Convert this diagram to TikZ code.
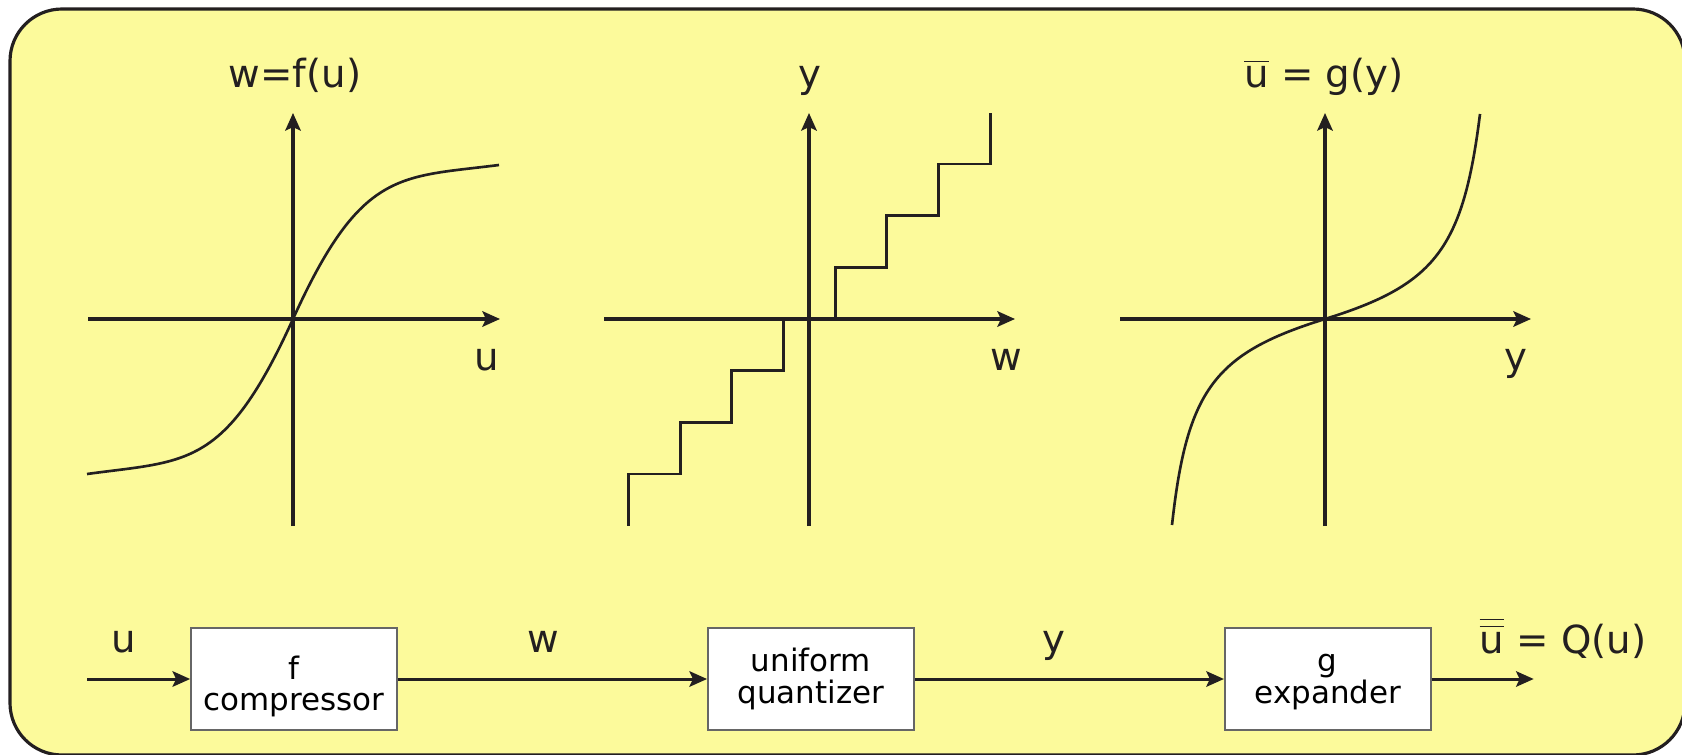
\documentclass[tikz,border=0pt]{standalone}
\usepackage{fontspec}
\setmainfont{DejaVu Sans}
\usetikzlibrary{positioning,arrows.meta}
\definecolor{pad}{RGB}{252,250,155}
\definecolor{ink}{RGB}{35,31,32}
\newcommand{\bst}[1]{\rule{0pt}{#1}}
\tikzset{
  ax/.style={ink,line width=0.9pt,-{Stealth[length=5pt,width=4.4pt,inset=1pt]}},
  crv/.style={ink,line width=0.75pt},
  blk/.style={draw=black!60,fill=white,line width=0.45pt,minimum width=2.06cm,minimum height=1.02cm,align=center,font=\fontsize{8.8}{9}\selectfont},
  lbl/.style={anchor=base,text=ink,font=\fontsize{11}{13}\selectfont},
  sig/.style={ink,line width=0.85pt,-{Stealth[length=5pt,width=4.4pt,inset=1pt]}}
}

\begin{document}
\begin{tikzpicture}[x=0.01cm,y=0.01cm]
    \useasboundingbox (0,0) rectangle (1682,754);
    \clip (0,0) rectangle (1682,754);
    \draw[ink,fill=pad,line width=0.9pt,rounded corners=0.52cm] (10,-1) rectangle (1685,745);
    % compressor curve
    \draw[ax] (88,435) -- (500,435);
    \draw[ax] (293,228) -- (293,641);
    \begin{scope}[shift={(293,435)}]
      \draw[crv] (-206,-155) .. controls (-106,-141.3) and (-68,-150) .. (0,0)
                 .. controls (68,150) and (106,141.3) .. (206,154);
    \end{scope}
    \node[lbl] (tf) at (295,666) {w=f(u)};
    \node[lbl] (au) at (487,384) {u};
    % quantizer staircase
    \draw[ax] (604,435) -- (1015,435);
    \draw[ax] (809,228) -- (809,641);
    \draw[crv,line width=0.85pt] (835,435) |- (886.7,486.7) |- (938.3,538.4) |- (990,590) -- (990,641);
    \draw[crv,line width=0.85pt] (783.5,435) |- (731.8,383.3) |- (680,331.6) |- (628.3,280) -- (628.3,228);
    \node[lbl] (ty) at (810,666) {y};
    \node[lbl] (aw) at (1006,384) {w};
    % expander curve
    \draw[ax] (1120,435) -- (1531,435);
    \draw[ax] (1325,228) -- (1325,641);
    \begin{scope}[shift={(1325,435)}]
      \draw[crv] (-153,-206) .. controls (-138.1,-70) and (-110,-34.1) .. (0,0)
                 .. controls (110,34.1) and (138.1,70) .. (155,205);
    \end{scope}
    \node[lbl] (tg) at (1324,666) {$\overline{\mbox{u}}$ = g(y)};
    \node[lbl] (ay) at (1516,384) {y};
    % block chain
    \node[blk] (cmp) at (294,75) {\bst{11pt}f\\compressor};
    \node[blk,right=3.09cm of cmp] (qnt) {\bst{6.8pt}uniform\\quantizer};
    \node[blk,right=3.09cm of qnt] (expd) {\bst{6.8pt}g\\expander};
    \coordinate[left=1.03cm of cmp] (src);
    \coordinate[right=1.02cm of expd] (dst);
    \draw[sig] (src) -- node[lbl,pos=.36,yshift=0.26cm] (su) {u} (cmp);
    \draw[sig] (cmp) -- node[lbl,pos=.47,yshift=0.26cm] (sw) {w} (qnt);
    \draw[sig] (qnt) -- node[lbl,pos=.45,yshift=0.26cm] (sy) {y} (expd);
    \draw[sig] (expd) -- (dst);
    \node[lbl] (sq) at (1563,101) {$\overline{\overline{\mbox{u}}}$ = Q(u)};
\end{tikzpicture}
\end{document}
